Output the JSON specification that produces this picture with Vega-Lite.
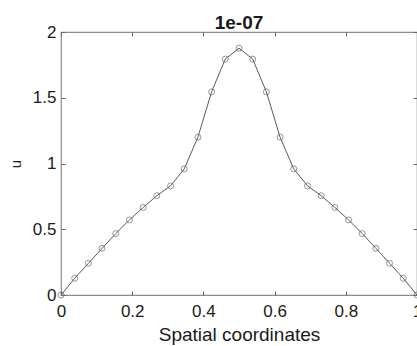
{
  "$schema": "https://vega.github.io/schema/vega-lite/v6.json",
  "autosize": {"type": "none"},
  "padding": {"left": 61, "top": 32, "right": 0, "bottom": 51},
  "width": 356,
  "height": 263,
  "background": "white",
  "title": {"text": "1e-07", "fontSize": 19, "fontWeight": "bold", "font": "Liberation Sans", "color": "#1a1a1a", "offset": -10, "anchor": "middle"},
  "config": {
    "view": {"stroke": "#8c8c8c", "strokeWidth": 1.2},
    "axis": {"grid": false, "domain": false, "tickColor": "#666666", "tickSize": -4, "labelFont": "Liberation Sans", "titleFont": "Liberation Sans", "labelColor": "#1a1a1a", "titleColor": "#1a1a1a", "labelFontSize": 17, "titleFontWeight": "normal", "format": "~g"}
  },
  "data": {"values": [
    {"x": 0.0000, "u": 0.000},
    {"x": 0.0385, "u": 0.127},
    {"x": 0.0769, "u": 0.241},
    {"x": 0.1154, "u": 0.355},
    {"x": 0.1538, "u": 0.467},
    {"x": 0.1923, "u": 0.571},
    {"x": 0.2308, "u": 0.666},
    {"x": 0.2692, "u": 0.755},
    {"x": 0.3077, "u": 0.830},
    {"x": 0.3462, "u": 0.959},
    {"x": 0.3846, "u": 1.200},
    {"x": 0.4231, "u": 1.545},
    {"x": 0.4615, "u": 1.794},
    {"x": 0.5000, "u": 1.877},
    {"x": 0.5385, "u": 1.794},
    {"x": 0.5769, "u": 1.545},
    {"x": 0.6154, "u": 1.200},
    {"x": 0.6538, "u": 0.959},
    {"x": 0.6923, "u": 0.830},
    {"x": 0.7308, "u": 0.755},
    {"x": 0.7692, "u": 0.666},
    {"x": 0.8077, "u": 0.571},
    {"x": 0.8462, "u": 0.467},
    {"x": 0.8846, "u": 0.355},
    {"x": 0.9231, "u": 0.241},
    {"x": 0.9615, "u": 0.127},
    {"x": 1.0000, "u": 0.000}
  ]},
  "layer": [
    {
      "mark": {"type": "line", "color": "#5a5a5a", "strokeWidth": 1},
      "encoding": {
        "x": {"field": "x", "type": "quantitative", "scale": {"domain": [0, 1], "nice": false}, "axis": {"orient": "bottom", "values": [0, 0.2, 0.4, 0.6, 0.8, 1], "format": "~g", "title": "Spatial coordinates", "titleFontSize": 19, "labelPadding": 12, "titlePadding": 6, "labelFlush": false}},
        "y": {"field": "u", "type": "quantitative", "scale": {"domain": [0, 2], "nice": false}, "axis": {"orient": "left", "values": [0, 0.5, 1, 1.5, 2], "format": "~g", "title": "u", "titleFontSize": 15, "labelPadding": 9, "titlePadding": 9, "titleAngle": 270}}
      }
    },
    {
      "mark": {"type": "point", "shape": "circle", "filled": false, "stroke": "#6a6a6a", "strokeWidth": 1, "size": 36},
      "encoding": {
        "x": {"field": "x", "type": "quantitative", "axis": {"orient": "top", "values": [0, 0.2, 0.4, 0.6, 0.8, 1], "labels": false, "title": null}},
        "y": {"field": "u", "type": "quantitative", "axis": {"orient": "right", "values": [0, 0.5, 1, 1.5, 2], "labels": false, "title": null}}
      }
    }
  ],
  "resolve": {"axis": {"x": "independent", "y": "independent"}}
}
